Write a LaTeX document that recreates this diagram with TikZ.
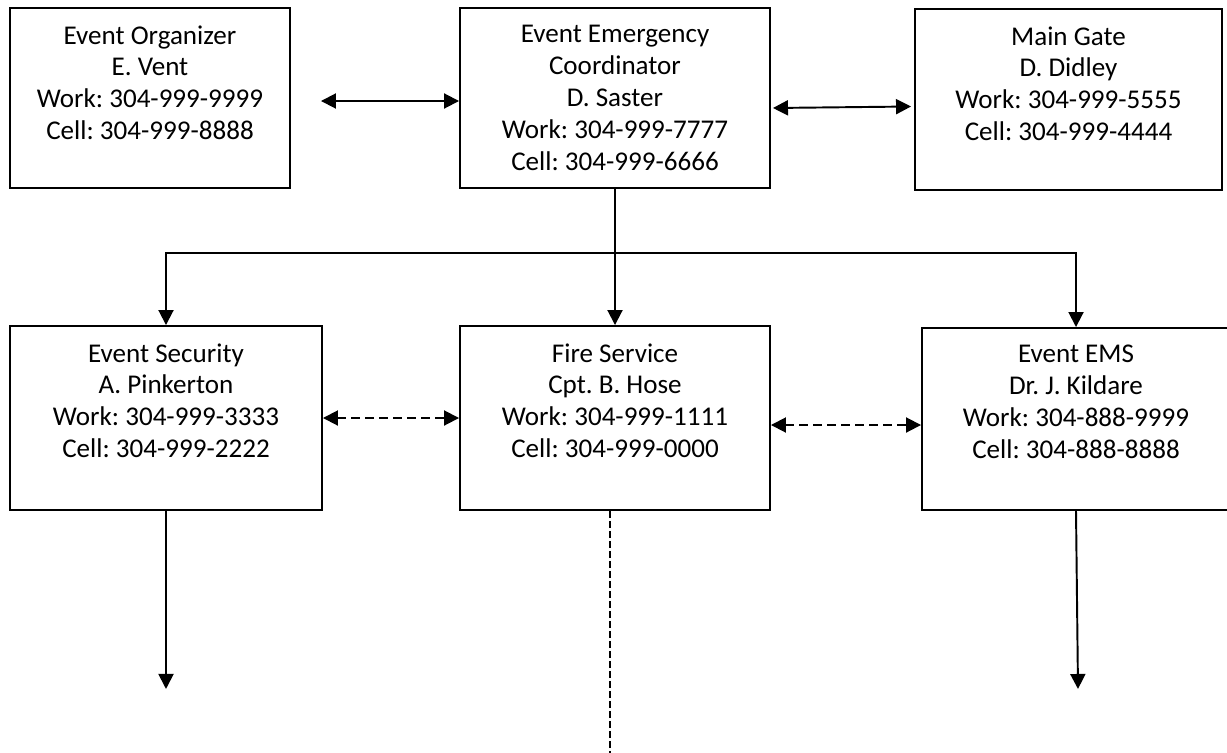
\documentclass[tikz,border=0pt]{standalone}
\usepackage{fontspec}
\setmainfont{Carlito}
\frenchspacing
\usepackage{tikz}
\usetikzlibrary{positioning,arrows.meta,calc}

\begin{document}
\begin{tikzpicture}[every node/.style={font=\fontsize{15.4}{18.2}\selectfont},
    card/.style={draw, line width=1.1pt, minimum width=6.2cm, minimum height=3.6cm, inner sep=0pt},
    info/.style={anchor=north, yshift=-0.36cm, inner sep=0pt, align=center},
    arr/.style={line width=1.1pt, -{Triangle[length=0.3cm, width=0.3cm]}},
    both/.style={line width=1.1pt, {Triangle[length=0.3cm, width=0.3cm]}-{Triangle[length=0.3cm, width=0.3cm]}},
    dash2/.style={both, dash pattern=on 0.18cm off 0.1cm}]
  \useasboundingbox (0,0) rectangle (24.54,-15.04);

  % top row
  \node[card, minimum width=5.6cm, label={[info]north:{Event Organizer\\E. Vent\\Work: 304-999-9999\\Cell: 304-999-8888}}] (org) at (3.0,-1.96) {};
  \node[card, label={[info]north:{Event Emergency\\Coordinator\\D. Saster\\Work: 304-999-7777\\Cell: 304-999-6666}}] (coord) at (12.3,-1.96) {};
  \node[card, minimum width=6.14cm, minimum height=3.62cm, label={[info]north:{Main Gate\\D. Didley\\Work: 304-999-5555\\Cell: 304-999-4444}}] (gate) at (21.37,-1.99) {};

  % second row
  \node[card, minimum width=6.24cm, minimum height=3.68cm, label={[info]north:{Event Security\\A. Pinkerton\\Work: 304-999-3333\\Cell: 304-999-2222}}] (sec) at (3.32,-8.36) {};
  \node[card, minimum height=3.68cm, label={[info]north:{Fire Service\\Cpt. B. Hose\\Work: 304-999-1111\\Cell: 304-999-0000}}] (fire) at (12.3,-8.36) {};
  \node[card, minimum width=6.16cm, minimum height=3.64cm, label={[info]north:{Event EMS\\Dr. J. Kildare\\Work: 304-888-9999\\Cell: 304-888-8888}}] (ems) at (21.52,-8.38) {};

  \coordinate (bus) at ([yshift=-1.28cm]coord.south);
  \coordinate (secout) at ([yshift=-3.56cm]sec.south);
  \coordinate (fireout) at ([xshift=-0.1cm, yshift=-4.84cm]fire.south);
  \coordinate (emsout) at ([xshift=0.04cm, yshift=-3.56cm]ems.south);

  \draw[both] ([xshift=0.6cm, yshift=-0.06cm]org.east) -- ([yshift=-0.06cm]coord.west);
  \draw[both] ([xshift=0.04cm, yshift=-0.2cm]coord.east) -- ([xshift=-0.06cm, yshift=-0.14cm]gate.west);

  \draw[arr] (coord.south) -- (fire.north);
  \draw[line width=1.1pt] (bus -| sec.north) -- (bus -| ems.north);
  \draw[arr] (bus) -| (sec.north);
  \draw[arr] (bus) -| (ems.north);

  \draw[dash2] (sec.east) -- (fire.west);
  \draw[dash2] ([yshift=-0.14cm]fire.east) -- ([yshift=-0.12cm]ems.west);

  \draw[arr] (sec.south) -- (secout);
  \draw[line width=0.6pt, dash pattern=on 0.14cm off 0.06cm] ([xshift=-0.1cm]fire.south) -- (fireout);
  \draw[arr] (ems.south) -- (emsout);
\end{tikzpicture}
\end{document}
